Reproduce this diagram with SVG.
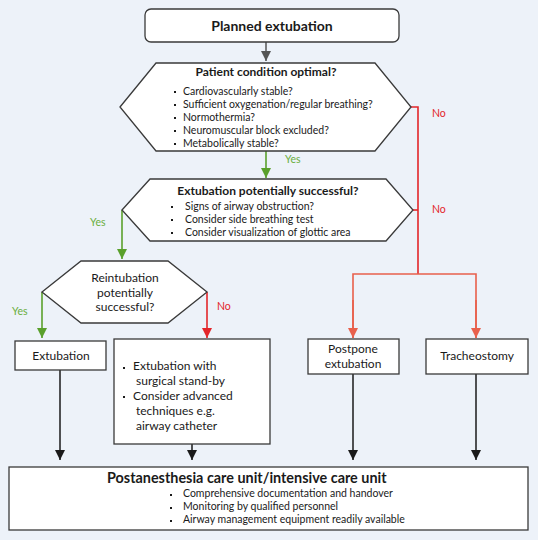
<svg xmlns="http://www.w3.org/2000/svg" width="538" height="540" viewBox="0 0 538 540">
<defs>
<style>
.bg{fill:#edf2f9}
.box{fill:#fff;stroke:#3a3a3a;stroke-width:1.3}
.t{font-family:Lato,"Liberation Sans",sans-serif;fill:#1a1a1a}
.b{font-weight:bold}
.yes{font-family:Lato,"Liberation Sans",sans-serif;fill:#6aae3c;font-size:10.5px}
.no{font-family:Lato,"Liberation Sans",sans-serif;fill:#e3262a;font-size:10.5px}
.gray{stroke:#555;stroke-width:1.5;fill:none}
.green{stroke:#5aa02c;stroke-width:1.6;fill:none}
.red{stroke:#e3262a;stroke-width:1.6;fill:none}
.salmon{stroke:#e8604c;stroke-width:1.6;fill:none}
.black{stroke:#1a1a1a;stroke-width:1.5;fill:none}
.dot{fill:#1a1a1a}
</style>
<marker id="mGray" viewBox="0 0 10 10" refX="10" refY="5" markerWidth="10" markerHeight="10" markerUnits="userSpaceOnUse" orient="auto"><path d="M0,0 L10,5 L0,10 z" fill="#555"/></marker>
<marker id="mGreen" viewBox="0 0 10 10" refX="10" refY="5" markerWidth="10" markerHeight="11" markerUnits="userSpaceOnUse" orient="auto"><path d="M0,0 L10,5 L0,10 z" fill="#5aa02c"/></marker>
<marker id="mRed" viewBox="0 0 10 10" refX="10" refY="5" markerWidth="10" markerHeight="11" markerUnits="userSpaceOnUse" orient="auto"><path d="M0,0 L10,5 L0,10 z" fill="#e3262a"/></marker>
<marker id="mSalmon" viewBox="0 0 10 10" refX="10" refY="5" markerWidth="10" markerHeight="11" markerUnits="userSpaceOnUse" orient="auto"><path d="M0,0 L10,5 L0,10 z" fill="#e8604c"/></marker>
<marker id="mBlack" viewBox="0 0 10 10" refX="10" refY="5" markerWidth="10" markerHeight="11" markerUnits="userSpaceOnUse" orient="auto"><path d="M0,0 L10,5 L0,10 z" fill="#1a1a1a"/></marker>
</defs>
<rect class="bg" x="0" y="0" width="538" height="540"/>

<g id="connectors">
<path class="gray" d="M266,42 V61" marker-end="url(#mGray)"/>
<path class="green" d="M266,151 V178" marker-end="url(#mGreen)"/>
<path class="green" d="M122,210 V259" marker-end="url(#mGreen)"/>
<path class="green" d="M42,292 V338" marker-end="url(#mGreen)"/>
<path class="red" d="M207,292 V338" marker-end="url(#mRed)"/>
<path class="red" d="M411,107 H418 V274"/>
<path class="red" d="M413,210 H418"/>
<path class="salmon" d="M353,338 V274 H476 V338"/>
<path class="salmon" d="M353,300 V338" marker-end="url(#mSalmon)"/>
<path class="salmon" d="M476,300 V338" marker-end="url(#mSalmon)"/>
<path class="black" d="M60,370 V460" marker-end="url(#mBlack)"/>
<path class="black" d="M192,444 V460" marker-end="url(#mBlack)"/>
<path class="black" d="M353,374 V460" marker-end="url(#mBlack)"/>
<path class="black" d="M476,374 V460" marker-end="url(#mBlack)"/>
<text class="yes" x="285" y="163">Yes</text>
<text class="yes" x="90" y="226">Yes</text>
<text class="yes" x="12" y="315">Yes</text>
<text class="no" x="432" y="117">No</text>
<text class="no" x="432" y="213">No</text>
<text class="no" x="217" y="310">No</text>
</g>

<g id="planned">
<rect class="box" x="145" y="9" width="254" height="33" rx="6"/>
<text class="t b" x="272" y="31" font-size="14" text-anchor="middle">Planned extubation</text>
</g>

<g id="condition">
<polygon class="box" points="120,107 156,63 375,63 411,107 375,151 156,151"/>
<text class="t b" x="266" y="76" font-size="12" text-anchor="middle">Patient condition optimal?</text>
<rect class="dot" x="174" y="91" width="2" height="2"/>
<rect class="dot" x="174" y="104" width="2" height="2"/>
<rect class="dot" x="174" y="117" width="2" height="2"/>
<rect class="dot" x="174" y="130" width="2" height="2"/>
<rect class="dot" x="174" y="143" width="2" height="2"/>
<text class="t" x="183" y="94.5" font-size="10.5">Cardiovascularly stable?</text>
<text class="t" x="183" y="107.5" font-size="10.5">Sufficient oxygenation/regular breathing?</text>
<text class="t" x="183" y="120.5" font-size="10.5">Normothermia?</text>
<text class="t" x="183" y="133.5" font-size="10.5">Neuromuscular block excluded?</text>
<text class="t" x="183" y="146.5" font-size="10.5">Metabolically stable?</text>
</g>

<g id="extubation-success">
<polygon class="box" points="122,210 150,179 386,179 413,210 386,241 150,241"/>
<text class="t b" x="268" y="195" font-size="12" text-anchor="middle">Extubation potentially successful?</text>
<rect class="dot" x="171" y="206" width="2" height="2"/>
<rect class="dot" x="171" y="219" width="2" height="2"/>
<rect class="dot" x="171" y="232" width="2" height="2"/>
<text class="t" x="185" y="209.5" font-size="10.5">Signs of airway obstruction?</text>
<text class="t" x="185" y="222.5" font-size="10.5">Consider side breathing test</text>
<text class="t" x="185" y="235.5" font-size="10.5">Consider visualization of glottic area</text>
</g>

<g id="reintubation">
<polygon class="box" points="42,292 81,261 168,261 207,292 168,323 81,323"/>
<text class="t" x="125" y="282" font-size="12" text-anchor="middle">Reintubation</text>
<text class="t" x="125" y="297" font-size="12" text-anchor="middle">potentially</text>
<text class="t" x="125" y="311" font-size="12" text-anchor="middle">successful?</text>
</g>

<g id="extubation">
<rect class="box" x="15" y="341" width="91" height="29"/>
<text class="t" x="61" y="359.5" font-size="12" text-anchor="middle">Extubation</text>
</g>

<g id="standby">
<rect class="box" x="114" y="339" width="156" height="105"/>
<rect class="dot" x="123" y="367" width="2" height="2"/>
<rect class="dot" x="123" y="396" width="2" height="2"/>
<text class="t" x="133" y="370" font-size="12">Extubation with</text>
<text class="t" x="136" y="385" font-size="12">surgical stand-by</text>
<text class="t" x="133" y="400" font-size="12">Consider advanced</text>
<text class="t" x="136" y="415" font-size="12">techniques e.g.</text>
<text class="t" x="136" y="430" font-size="12">airway catheter</text>
</g>

<g id="postpone">
<rect class="box" x="308" y="339" width="91" height="35"/>
<text class="t" x="353" y="353" font-size="12" text-anchor="middle">Postpone</text>
<text class="t" x="353" y="368" font-size="12" text-anchor="middle">extubation</text>
</g>

<g id="tracheostomy">
<rect class="box" x="426" y="339" width="102" height="35"/>
<text class="t" x="477" y="360" font-size="12" text-anchor="middle">Tracheostomy</text>
</g>

<g id="pacu">
<rect class="box" x="9" y="467" width="519" height="63"/>
<text class="t b" x="107" y="483" font-size="14.4">Postanesthesia care unit/intensive care unit</text>
<rect class="dot" x="170" y="494" width="2" height="2"/>
<rect class="dot" x="170" y="507" width="2" height="2"/>
<rect class="dot" x="170" y="520" width="2" height="2"/>
<text class="t" x="183" y="497" font-size="10.5">Comprehensive documentation and handover</text>
<text class="t" x="183" y="510" font-size="10.5">Monitoring by qualified personnel</text>
<text class="t" x="183" y="523" font-size="10.5">Airway management equipment readily available</text>
</g>
</svg>
